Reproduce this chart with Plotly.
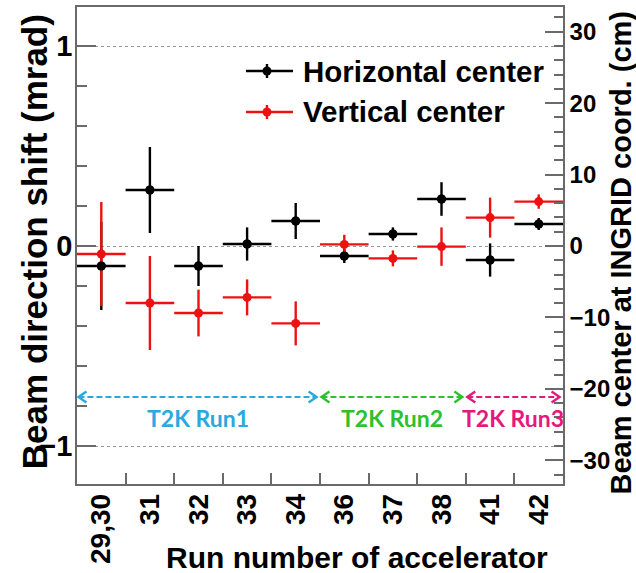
import plotly.graph_objects as go

# ---------------- data ----------------
categories = ["29,30", "31", "32", "33", "34", "36", "37", "38", "41", "42"]
horizontal_center = [-0.10, 0.28, -0.10, 0.01, 0.125, -0.05, 0.06, 0.235, -0.07, 0.11]
horizontal_err = [0.22, 0.215, 0.10, 0.083, 0.09, 0.035, 0.033, 0.084, 0.083, 0.03]
vertical_center = [-0.04, -0.285, -0.335, -0.257, -0.387, 0.008, -0.062, -0.003, 0.142, 0.222]
vertical_err = [0.26, 0.235, 0.117, 0.09, 0.11, 0.048, 0.04, 0.096, 0.10, 0.036]

run_names = ["T2K Run1", "T2K Run2", "T2K Run3"]
run_first_bin = [0, 5, 8]
run_last_bin = [4, 7, 9]
run_colors = ["#2aa8e0", "#2ec12e", "#e3197c"]

left_tickvals = [-1, 0, 1]
right_tickvals = [-30, -20, -10, 0, 10, 20, 30]
mrad_to_cm = 28.0          # INGRID is ~280 m downstream
bin_halfwidth = 0.5

# ---------------- styling ----------------
FONT = "Liberation Sans, Arial, Helvetica, sans-serif"
BLACK = "#000000"
RED = "#ee1111"
AXC = "#6a6a6a"
y_range = [-1.19, 1.195]
arrow_y = -0.755
label_y = -0.862

x = list(range(len(categories)))
fig = go.Figure()

fig.add_trace(go.Scatter(
    x=x, y=horizontal_center, mode="markers", name="Horizontal center",
    marker=dict(color=BLACK, size=9),
    error_y=dict(type="data", array=horizontal_err, color=BLACK, thickness=2.4, width=0),
    error_x=dict(type="constant", value=bin_halfwidth, color=BLACK, thickness=2.4, width=0),
    showlegend=False))
fig.add_trace(go.Scatter(
    x=x, y=vertical_center, mode="markers", name="Vertical center",
    marker=dict(color=RED, size=9),
    error_y=dict(type="data", array=vertical_err, color=RED, thickness=2.4, width=0),
    error_x=dict(type="constant", value=bin_halfwidth, color=RED, thickness=2.4, width=0),
    showlegend=False))
fig.add_trace(go.Scatter(
    x=x, y=horizontal_center, mode="markers", marker=dict(color=BLACK, size=9),
    showlegend=False, hoverinfo="skip"))

# right axis (dummy trace so the axis renders)
fig.add_trace(go.Scatter(x=[None], y=[None], yaxis="y2", showlegend=False))

shapes = []
annotations = []

# run period arrows
gap_l, gap_r = 0.03, 0.07
chev_dx, chev_dy = 0.165, 0.028
for name, s, e, c in zip(run_names, run_first_bin, run_last_bin, run_colors):
    x0 = s - bin_halfwidth + gap_l
    x1 = e + bin_halfwidth - gap_r
    shapes.append(dict(type="line", xref="x", yref="y", x0=x0, x1=x1,
                       y0=arrow_y, y1=arrow_y,
                       line=dict(color=c, width=2, dash="6px,3px")))
    fig.add_trace(go.Scatter(
        x=[x0 + chev_dx, x0, x0 + chev_dx], y=[arrow_y + chev_dy, arrow_y, arrow_y - chev_dy],
        mode="lines", line=dict(color=c, width=2.4), showlegend=False, hoverinfo="skip"))
    fig.add_trace(go.Scatter(
        x=[x1 - chev_dx, x1, x1 - chev_dx], y=[arrow_y + chev_dy, arrow_y, arrow_y - chev_dy],
        mode="lines", line=dict(color=c, width=2.4), showlegend=False, hoverinfo="skip"))
    annotations.append(dict(xref="x", yref="y", x=(x0 + x1) / 2, y=label_y,
                            text="<b>%s</b>" % name, showarrow=False,
                            font=dict(family="Lato, Open Sans, sans-serif", size=23, color=c),
                            xanchor="center", yanchor="middle"))

# custom legend (paper coordinates)
legend_rows = [("Horizontal center", BLACK, 0.8658), ("Vertical center", RED, 0.7799)]
lx0, lx1, lxm, ltext = 0.3477, 0.4444, 0.3909, 0.461
for txt, c, ly in legend_rows:
    shapes.append(dict(type="line", xref="paper", yref="paper", x0=lx0, x1=lx1, y0=ly, y1=ly,
                       line=dict(color=c, width=2.4)))
    shapes.append(dict(type="line", xref="paper", yref="paper", x0=lxm, x1=lxm,
                       y0=ly - 0.0147, y1=ly + 0.0147, line=dict(color=c, width=2.4)))
    shapes.append(dict(type="circle", xref="paper", yref="paper", xsizemode="pixel", ysizemode="pixel",
                       xanchor=lxm, yanchor=ly, x0=-4.5, x1=4.5, y0=-4.5, y1=4.5,
                       fillcolor=c, line=dict(color=c, width=0)))
    annotations.append(dict(xref="paper", yref="paper", x=ltext, y=ly, text="<b>%s</b>" % txt,
                            showarrow=False, xanchor="left", yanchor="middle",
                            font=dict(family=FONT, size=29.5, color=BLACK)))

# axis titles
annotations.append(dict(xref="paper", yref="paper", x=-0.0875, y=0.508,
                        text="<b>Beam direction shift (mrad)</b>", textangle=-90, showarrow=False,
                        xanchor="center", yanchor="middle", font=dict(family=FONT, size=35, color=BLACK)))
annotations.append(dict(xref="paper", yref="paper", x=1.119, y=0.485,
                        text="<b>Beam center at INGRID coord. (cm)</b>", textangle=-90, showarrow=False,
                        xanchor="center", yanchor="middle", font=dict(family=FONT, size=29, color=BLACK)))
annotations.append(dict(xref="paper", yref="paper", x=0.577, y=-0.155,
                        text="<b>Run number of accelerator</b>", showarrow=False,
                        xanchor="center", yanchor="middle", font=dict(family=FONT, size=30, color=BLACK)))

fig.update_layout(
    width=636, height=573,
    margin=dict(l=77, r=73, t=7, b=89),
    paper_bgcolor="white", plot_bgcolor="white",
    showlegend=False,
    shapes=shapes, annotations=annotations,
    xaxis=dict(range=[-0.5, 9.5], tickmode="array", tickvals=x, ticktext=categories,
               ticks="", tickangle=-90, showgrid=False, zeroline=False, automargin=False,
               showline=True, linecolor=AXC, linewidth=1.5, mirror=True, ticklabelstandoff=-3,
               tickfont=dict(family=FONT, size=28, color=BLACK, weight="bold"),
               minor=dict(tickmode="array", tickvals=[i + 0.5 for i in x[:-1]],
                          ticks="inside", ticklen=11, tickcolor=AXC, tickwidth=1.5, showgrid=False)),
    yaxis=dict(range=y_range, tickmode="array", tickvals=left_tickvals, automargin=False,
               ticks="inside", ticklen=19, tickcolor=AXC, tickwidth=1.5, ticklabelstandoff=-3,
               showgrid=True, gridcolor="#999999", griddash="dot", gridwidth=1,
               zeroline=False, showline=True, linecolor=AXC, linewidth=1.5,
               tickfont=dict(family=FONT, size=29, color=BLACK, weight="bold"),
               minor=dict(dtick=0.2, tick0=0, ticks="inside", ticklen=10, tickcolor=AXC,
                          tickwidth=1.5, showgrid=False)),
    yaxis2=dict(range=[y_range[0] * mrad_to_cm, y_range[1] * mrad_to_cm], overlaying="y", side="right",
                tickmode="array", tickvals=right_tickvals, automargin=False,
                ticks="inside", ticklen=18, tickcolor=AXC, tickwidth=1.5,
                showgrid=False, zeroline=False, showline=True, linecolor=AXC, linewidth=1.5,
                tickfont=dict(family=FONT, size=24, color=BLACK, weight="bold"),
                minor=dict(dtick=2, tick0=0, ticks="inside", ticklen=9, tickcolor=AXC,
                           tickwidth=1.5, showgrid=False)),
)

fig.write_html("out.html", config={"displayModeBar": False},
               post_script="document.body.style.margin='0px';document.body.style.overflow='hidden';")
